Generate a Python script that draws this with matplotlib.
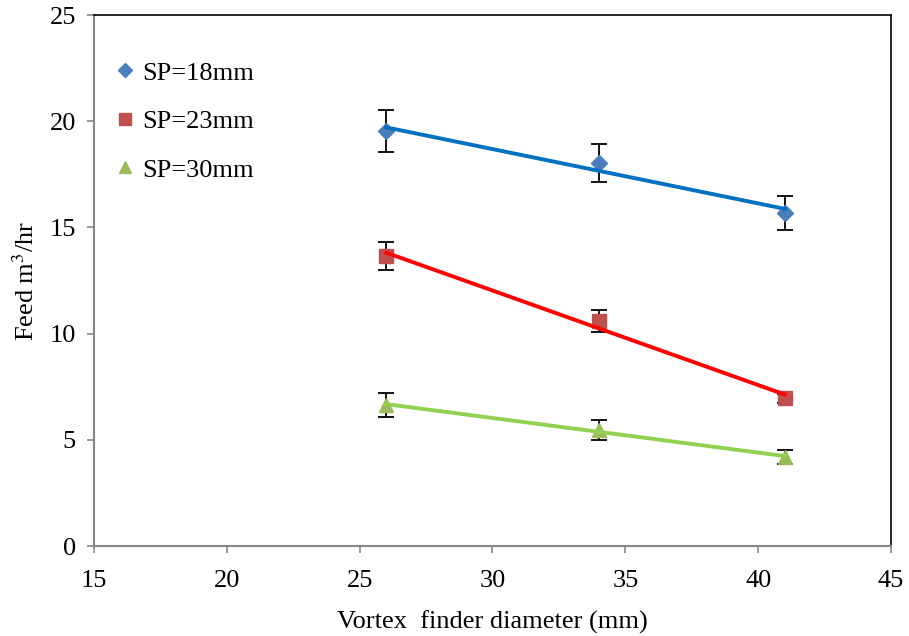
import matplotlib
matplotlib.use("Agg")
import matplotlib.pyplot as plt
import numpy as np

plt.rcParams['font.family'] = ['Liberation Serif', 'DejaVu Serif']
plt.rcParams['mathtext.fontset'] = 'stix'

diameter = [26, 34, 41]
labels = ["SP=18mm", "SP=23mm", "SP=30mm"]
feed_18 = [19.54, 18.03, 15.68]
feed_23 = [13.65, 10.59, 6.95]
feed_30 = [6.64, 5.46, 4.19]
err_18 = [0.99, 0.90, 0.80]
err_23 = [0.66, 0.52, 0.20]
err_30 = [0.55, 0.45, 0.33]

series = [
    (feed_18, err_18, labels[0], 'D', '#4a7ebb', '#0070c0', 8),
    (feed_23, err_23, labels[1], 's', '#c0504d', '#ff0000', 10),
    (feed_30, err_30, labels[2], '^', '#9bbb59', '#92d050', 10),
]

fig = plt.figure(figsize=(9.09, 6.36), dpi=100)
ax = fig.add_axes([0.1034, 0.1415, 0.8768, 0.8349])

x = np.array(diameter, dtype=float)
for ys, es, lab, mk, mc, lc, ms in series:
    ys = np.array(ys)
    ax.errorbar(x, ys, yerr=es, fmt='none', ecolor='black', elinewidth=1.3,
                capsize=6, capthick=1.3, zorder=2)
    ax.plot(x, ys, linestyle='none', marker=mk, color=mc, markersize=ms,
            label=lab, zorder=3)
    k, b = np.polyfit(x, ys, 1)
    xx = np.array([x.min(), x.max()])
    ax.plot(xx, k * xx + b, color=lc, linewidth=2.8, zorder=4)

ax.set_xlim(15, 45)
ax.set_ylim(0, 25)
ax.set_xticks([15, 20, 25, 30, 35, 40, 45])
ax.set_yticks([0, 5, 10, 15, 20, 25])
ax.tick_params(direction='out', length=5, width=1.2, color='#868686',
               labelsize=19)
ax.tick_params(axis='x', pad=12)
ax.tick_params(axis='y', pad=8)

for s in ['left', 'bottom']:
    ax.spines[s].set_color('#868686')
    ax.spines[s].set_linewidth(1.5)
for s in ['top', 'right']:
    ax.spines[s].set_color('black')
    ax.spines[s].set_linewidth(1.2)

ax.set_xlabel('Vortex  finder diameter (mm)', fontsize=19, labelpad=14)
ax.set_ylabel('Feed m$^3$/hr', fontsize=19, labelpad=8)

leg = ax.legend(loc='upper left', bbox_to_anchor=(-0.011, 0.958), frameon=False,
                fontsize=19, handletextpad=0.05, labelspacing=0.95,
                handlelength=1.2, markerscale=0.9)

fig.savefig('out.png', dpi=100)
